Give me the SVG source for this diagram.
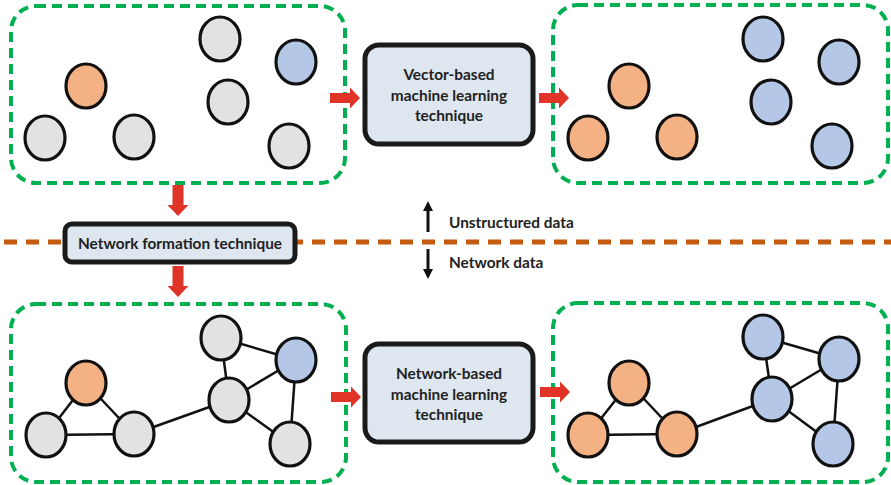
<svg xmlns="http://www.w3.org/2000/svg" width="891" height="485" viewBox="0 0 891 485">
<style>
.panel{fill:none;stroke:#00b050;stroke-width:4;stroke-dasharray:10 6}
.box{fill:#dee6f0;stroke:#1a1a1a;stroke-width:5}
.c{stroke:#111;stroke-width:3.2}
.g{fill:#e2e2e2}
.o{fill:#f4b183}
.b{fill:#b4c7e7}
.edge{stroke:#111;stroke-width:2.5;fill:none}
.red{fill:#e03428}
.lbl{font-family:Lato,"Liberation Sans",sans-serif;font-weight:bold;font-size:15.4px;fill:#222;text-anchor:middle}
.side{font-family:Lato,"Liberation Sans",sans-serif;font-weight:bold;font-size:15.4px;fill:#222}
</style>
<defs>
<polygon id="rarrow" points="0,-5 20,-5 20,-10.5 30,0 20,10.5 20,5 0,5"/>
<polygon id="darrow" points="-5.5,0 5.5,0 5.5,20 10.5,20 0,31 -10.5,20 -5.5,20"/>
</defs>

<!-- dashed divider -->
<line x1="4" y1="242" x2="891" y2="242" stroke="#c55a11" stroke-width="5" stroke-dasharray="13 9"/>

<!-- panels -->
<g id="panel-top-left"><rect class="panel" x="11" y="6" width="334" height="177" rx="25"/></g>
<g id="panel-top-right"><rect class="panel" x="553" y="5" width="335" height="178" rx="25"/></g>
<g id="panel-bottom-left"><rect class="panel" x="11" y="304" width="335" height="178" rx="25"/></g>
<g id="panel-bottom-right"><rect class="panel" x="553" y="303" width="335" height="179" rx="25"/></g>

<!-- connectors -->
<g id="connectors">
<use href="#rarrow" class="red" x="330" y="98"/>
<use href="#rarrow" class="red" x="539" y="98"/>
<use href="#rarrow" class="red" x="331" y="397"/>
<use href="#rarrow" class="red" x="540" y="392"/>
<use href="#darrow" class="red" x="178" y="185"/>
<use href="#darrow" class="red" x="178" y="266"/>
<polygon fill="#111" points="426.5,232 429.5,232 429.5,211 433,211 428,201 423,211 426.5,211"/>
<polygon fill="#111" points="426.5,249 429.5,249 429.5,269 433,269 428,279 423,269 426.5,269"/>
<!-- bottom-left graph edges -->
<line class="edge" x1="86" y1="383" x2="46" y2="435"/>
<line class="edge" x1="86" y1="383" x2="134" y2="434"/>
<line class="edge" x1="46" y1="435" x2="134" y2="434"/>
<line class="edge" x1="134" y1="434" x2="229" y2="400"/>
<line class="edge" x1="221" y1="338" x2="229" y2="400"/>
<line class="edge" x1="221" y1="338" x2="296" y2="360"/>
<line class="edge" x1="229" y1="400" x2="296" y2="360"/>
<line class="edge" x1="296" y1="360" x2="290" y2="444"/>
<line class="edge" x1="229" y1="400" x2="290" y2="444"/>
<!-- bottom-right graph edges -->
<line class="edge" x1="629" y1="383" x2="588" y2="435"/>
<line class="edge" x1="629" y1="383" x2="677" y2="434"/>
<line class="edge" x1="588" y1="435" x2="677" y2="434"/>
<line class="edge" x1="677" y1="434" x2="772" y2="399"/>
<line class="edge" x1="763" y1="337" x2="772" y2="399"/>
<line class="edge" x1="763" y1="337" x2="839" y2="359"/>
<line class="edge" x1="772" y1="399" x2="839" y2="359"/>
<line class="edge" x1="839" y1="359" x2="833" y2="444"/>
<line class="edge" x1="772" y1="399" x2="833" y2="444"/>
</g>

<!-- process boxes -->
<g id="vector-ml">
<rect class="box" x="365" y="45" width="168" height="99" rx="14"/>
<text class="lbl" x="449" y="80">Vector-based</text>
<text class="lbl" x="449" y="101">machine learning</text>
<text class="lbl" x="449" y="121">technique</text>
</g>
<g id="network-ml">
<rect class="box" x="365" y="344" width="168" height="98" rx="14"/>
<text class="lbl" x="449" y="379">Network-based</text>
<text class="lbl" x="449" y="400">machine learning</text>
<text class="lbl" x="449" y="420">technique</text>
</g>
<g id="network-formation">
<rect class="box" x="65" y="224" width="230" height="38" rx="7"/>
<text class="lbl" x="180" y="248.5">Network formation technique</text>
</g>
<g id="label-unstructured"><text class="side" x="449" y="228">Unstructured data</text></g>
<g id="label-network"><text class="side" x="449" y="268">Network data</text></g>

<!-- top-left nodes -->
<g id="tl-n1"><ellipse class="c o" cx="86" cy="86" rx="20" ry="22"/></g>
<g id="tl-n2"><ellipse class="c g" cx="45" cy="138" rx="20" ry="22"/></g>
<g id="tl-n3"><ellipse class="c g" cx="134" cy="137" rx="20" ry="22"/></g>
<g id="tl-n4"><ellipse class="c g" cx="220" cy="39" rx="20" ry="22"/></g>
<g id="tl-n5"><ellipse class="c b" cx="296" cy="62" rx="20" ry="22"/></g>
<g id="tl-n6"><ellipse class="c g" cx="228" cy="102" rx="20" ry="22"/></g>
<g id="tl-n7"><ellipse class="c g" cx="289" cy="146" rx="20" ry="22"/></g>

<!-- top-right nodes -->
<g id="tr-n1"><ellipse class="c o" cx="629" cy="86" rx="20" ry="22"/></g>
<g id="tr-n2"><ellipse class="c o" cx="588" cy="138" rx="20" ry="22"/></g>
<g id="tr-n3"><ellipse class="c o" cx="677" cy="137" rx="20" ry="22"/></g>
<g id="tr-n4"><ellipse class="c b" cx="763" cy="39" rx="20" ry="22"/></g>
<g id="tr-n5"><ellipse class="c b" cx="839" cy="62" rx="20" ry="22"/></g>
<g id="tr-n6"><ellipse class="c b" cx="771" cy="102" rx="20" ry="22"/></g>
<g id="tr-n7"><ellipse class="c b" cx="832" cy="146" rx="20" ry="22"/></g>

<!-- bottom-left nodes -->
<g id="bl-n1"><ellipse class="c o" cx="86" cy="383" rx="20" ry="22"/></g>
<g id="bl-n2"><ellipse class="c g" cx="46" cy="435" rx="20" ry="22"/></g>
<g id="bl-n3"><ellipse class="c g" cx="134" cy="434" rx="20" ry="22"/></g>
<g id="bl-n4"><ellipse class="c g" cx="221" cy="338" rx="20" ry="22"/></g>
<g id="bl-n5"><ellipse class="c b" cx="296" cy="360" rx="20" ry="22"/></g>
<g id="bl-n6"><ellipse class="c g" cx="229" cy="400" rx="20" ry="22"/></g>
<g id="bl-n7"><ellipse class="c g" cx="290" cy="444" rx="20" ry="22"/></g>

<!-- bottom-right nodes -->
<g id="br-n1"><ellipse class="c o" cx="629" cy="383" rx="20" ry="22"/></g>
<g id="br-n2"><ellipse class="c o" cx="588" cy="435" rx="20" ry="22"/></g>
<g id="br-n3"><ellipse class="c o" cx="677" cy="434" rx="20" ry="22"/></g>
<g id="br-n4"><ellipse class="c b" cx="763" cy="337" rx="20" ry="22"/></g>
<g id="br-n5"><ellipse class="c b" cx="839" cy="359" rx="20" ry="22"/></g>
<g id="br-n6"><ellipse class="c b" cx="772" cy="399" rx="20" ry="22"/></g>
<g id="br-n7"><ellipse class="c b" cx="833" cy="444" rx="20" ry="22"/></g>
</svg>
